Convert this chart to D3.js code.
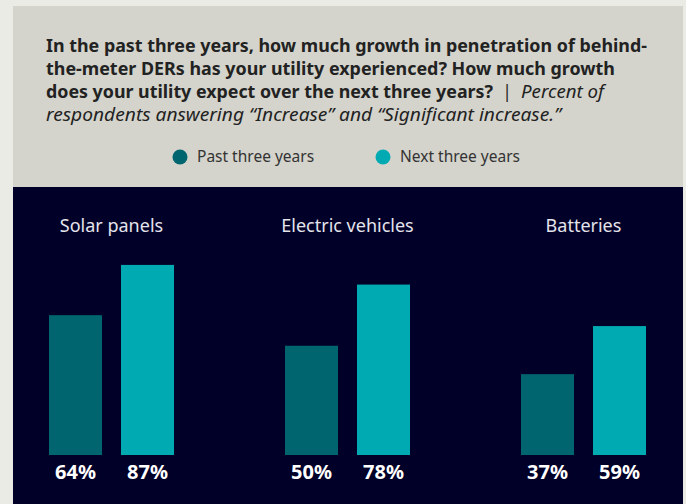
<!DOCTYPE html>
<html>
<head>
<meta charset="utf-8">
<script src="https://cdn.jsdelivr.net/npm/d3@7"></script>
<style>
  body { margin: 0; background: #ebebe5; }
  svg { display: block; }
</style>
</head>
<body>
<svg id="chart" width="686" height="504"></svg>
<script>
// values
const categories = ["Solar panels", "Electric vehicles", "Batteries"]
const seriesNames = ["Past three years", "Next three years"]
const past = [64, 50, 37]
const next = [87, 78, 59]
const colors = ["#00656e", "#00aab3"]

const titleLines = [
    "In the past three years, how much growth in penetration of behind-",
    "the-meter DERs has your utility experienced? How much growth",
    "does your utility expect over the next three years?"
]
const titleWidths = [601, 569, 447]
const subtitle = "Percent of"
const subtitle2 = "respondents answering \u201cIncrease\u201d and \u201cSignificant increase.\u201d"

const W = 686, H = 504
const svg = d3.select("#chart")
const font = "'Noto Sans', 'Open Sans', sans-serif"

// panels
svg.append("rect").attr("x", 13).attr("y", 6).attr("width", 670).attr("height", 181).attr("fill", "#d4d4cc")
svg.append("rect").attr("x", 13).attr("y", 187).attr("width", 670).attr("height", H - 187).attr("fill", "#000028")

// title
const title = svg.append("g").attr("font-family", font).attr("fill", "#222").attr("font-size", 17.5)
titleLines.forEach(function (t, i) {
    title.append("text")
        .attr("x", 46)
        .attr("y", 52 + i * 23)
        .attr("font-weight", 700)
        .attr("textLength", titleWidths[i])
        .attr("lengthAdjust", "spacingAndGlyphs")
        .text(t)
})
title.append("text")
    .attr("x", 507).attr("y", 52 + 2 * 23)
    .attr("text-anchor", "middle")
    .text("|")
title.append("text")
    .attr("x", 521).attr("y", 52 + 2 * 23)
    .attr("font-style", "italic")
    .attr("textLength", 83)
    .attr("lengthAdjust", "spacingAndGlyphs")
    .text(subtitle)
title.append("text")
    .attr("x", 46).attr("y", 52 + 3 * 23)
    .attr("font-style", "italic")
    .attr("textLength", 515)
    .attr("lengthAdjust", "spacingAndGlyphs")
    .text(subtitle2)

// legend
const legend = svg.append("g").attr("font-family", font)
const legendX = [180, 383]
seriesNames.forEach(function (s, i) {
    legend.append("circle").attr("cx", legendX[i]).attr("cy", 157).attr("r", 7.5).attr("fill", colors[i])
    legend.append("text")
        .attr("x", legendX[i] + 17).attr("y", 162)
        .attr("font-size", 15.5)
        .attr("fill", "#333")
        .text(s)
})

// scales
const x0 = d3.scaleBand()
    .domain(categories)
    .range([13, 721])
    .paddingInner(0)

const x1 = d3.scaleBand()
    .domain(seriesNames)
    .range([36, 161])
    .paddingInner(0.264)

const y = d3.scaleLinear()
    .domain([0, 100])
    .range([455, 236.5])

const data = categories.map(function (c, i) {
    return { cat: c, vals: [past[i], next[i]] }
})

const groups = svg.selectAll("g.group")
    .data(data)
    .enter()
    .append("g")
    .attr("class", "group")
    .attr("transform", function (d) { return "translate(" + x0(d.cat) + ",0)" })

groups.append("text")
    .attr("x", (x1.range()[0] + x1.range()[1]) / 2)
    .attr("y", 232)
    .attr("text-anchor", "middle")
    .attr("font-family", font)
    .attr("font-size", 18)
    .attr("fill", "#e4e4ec")
    .text(function (d) { return d.cat })

groups.selectAll("rect")
    .data(function (d) { return d.vals })
    .enter()
    .append("rect")
    .attr("x", function (d, i) { return x1(seriesNames[i]) })
    .attr("width", x1.bandwidth())
    .attr("y", function (d) { return y(d) })
    .attr("height", function (d) { return y(0) - y(d) })
    .attr("fill", function (d, i) { return colors[i] })

groups.selectAll("text.val")
    .data(function (d) { return d.vals })
    .enter()
    .append("text")
    .attr("class", "val")
    .attr("x", function (d, i) { return x1(seriesNames[i]) + x1.bandwidth() / 2 })
    .attr("y", 479)
    .attr("text-anchor", "middle")
    .attr("font-family", font)
    .attr("font-size", 20)
    .attr("font-weight", 700)
    .attr("fill", "#fff")
    .text(function (d) { return d + "%" })
</script>
</body>
</html>
